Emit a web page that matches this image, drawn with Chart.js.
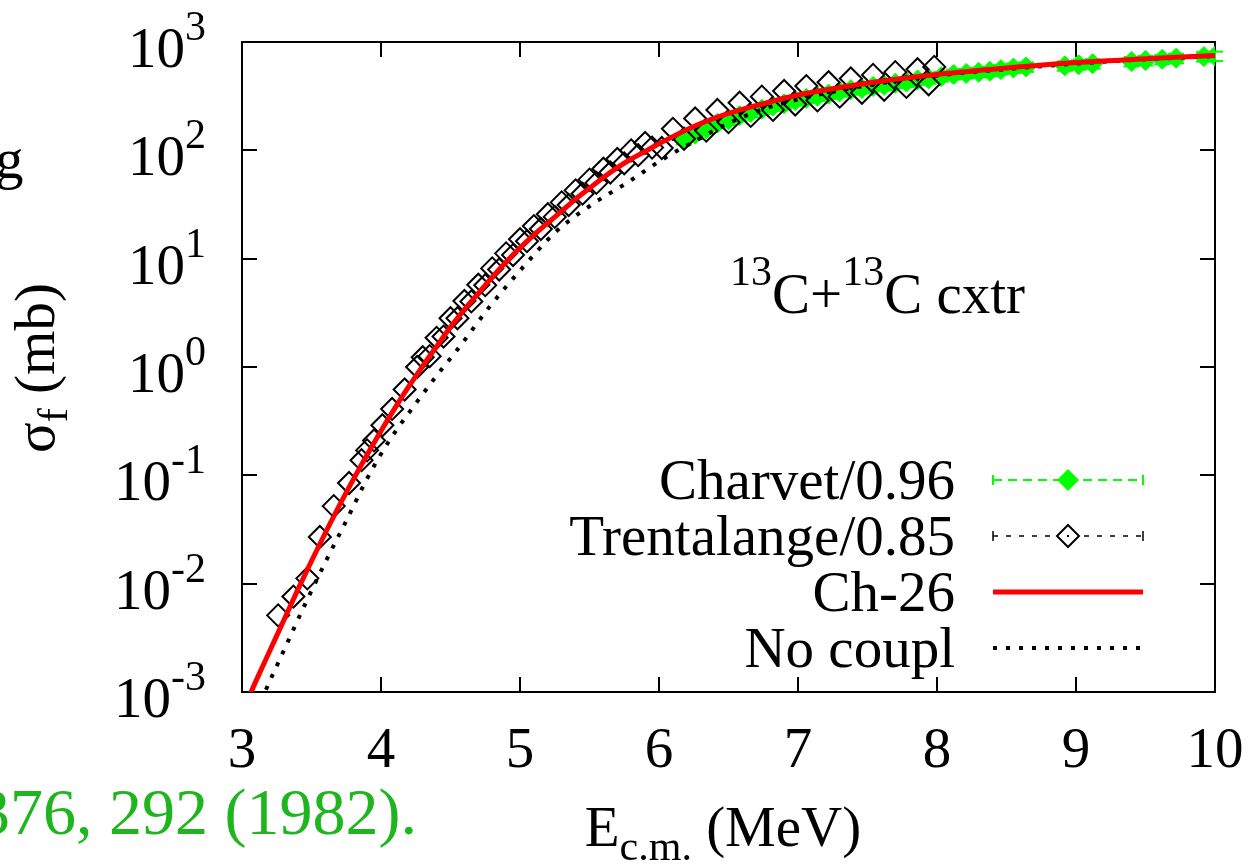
<!DOCTYPE html>
<html><head><meta charset="utf-8">
<script src="https://cdn.jsdelivr.net/npm/chart.js@4.4.1/dist/chart.umd.min.js"></script>
<style>html,body{margin:0;padding:0;background:#fff;overflow:hidden}canvas{display:block}
#probe{position:absolute;left:-9999px;top:0;font-family:"Liberation Serif";font-size:57px}</style>
</head><body>
<div id="probe">Charvet σ 0123</div>
<canvas id="c" width="1258" height="867" style="width:1258px;height:867px"></canvas>
<script>
// ---------------- data ----------------
const xTicks = [3, 4, 5, 6, 7, 8, 9, 10];
const yTickExps = [-3, -2, -1, 0, 1, 2, 3];

const charvetE = [6.18,6.26,6.34,6.42,6.50,6.58,6.66,6.74,6.82,6.90,6.98,7.06,7.14,7.22,7.30,7.38,7.46,7.54,7.62,7.70,7.78,7.86,7.94,8.03,8.12,8.21,8.30,8.38,8.46,8.55,8.64,8.92,9.02,9.12,9.40,9.50,9.62,9.72,9.92,10.0];
const charvetSigma = [126,141,158,178,191,209,224,240,257,269,288,302,316,331,347,363,372,389,398,417,427,447,457,479,501,513,525,537,556,575,589,603,617,631,661,676,692,708,733,741];
const charvetRelErr = 0.10;

const trentE = [3.26,3.37,3.47,3.56,3.66,3.77,3.86,3.90,3.95,4.01,4.08,4.17,4.26,
  4.30,4.35,4.40,4.45,4.50,4.55,4.60,4.65,4.70,4.75,4.80,4.85,4.90,4.95,5.00,5.05,5.10,5.15,5.20,5.25,5.30,5.35,5.40,5.45,5.50,5.55,5.60,5.65,5.70,5.75,5.80,5.85,5.90,5.95,
  6.02,6.10,6.18,6.26,6.34,6.42,6.50,6.58,6.66,6.74,6.82,6.90,6.98,7.06,7.14,7.22,7.30,7.38,7.46,7.54,7.62,7.70,7.78,7.86,7.94,7.98];
const trentSigma = [0.0051,0.0076,0.0112,0.027,0.052,0.085,0.138,0.17,0.21,0.29,0.41,0.62,1.0,
  1.23,1.26,1.86,1.91,2.82,2.82,4.07,4.03,5.75,5.69,8.13,7.94,11.2,10.8,15.1,14.5,20.0,18.8,25.7,24.3,33.1,31.3,42.7,39.8,53.7,50.1,67.6,62.4,83.2,75.9,100,90.2,117,106,
  105,158,128,197,152,236,182,275,208,313,236,353,265,392,289,425,313,461,340,497,362,527,385,560,407,589];

const ch26E = [3.0,3.1,3.2,3.3,3.4,3.5,3.6,3.7,3.8,3.9,4.0,4.1,4.2,4.3,4.4,4.5,4.6,4.7,4.8,4.9,5.0,5.1,5.2,5.3,5.4,5.5,5.6,5.7,5.8,5.9,6.0,6.25,6.5,6.75,7.0,7.5,8.0,8.5,9.0,9.5,10.0];
const ch26Sigma = [6.46e-4,1.26e-3,2.40e-3,4.57e-3,8.71e-3,0.0162,0.0295,0.0525,0.0912,0.155,0.257,0.417,0.661,1.02,1.55,2.34,3.39,4.79,6.76,9.33,12.6,16.6,21.4,27.5,35.5,44.7,56.2,69.2,83.2,97.7,115,166,219,269,324,417,501,575,646,700,750];

const noCoupE = [3.10,3.165,3.3,3.45,3.6,3.75,3.9,4.05,4.26,4.4,4.55,4.79,5.02,5.26,5.53,5.77,6.03,6.25,6.5,6.75,7.0,7.5,8.0,8.5,9.0,9.5,10.0];
const noCoupSigma = [6.3e-4,1.0e-3,2.40e-3,6.31e-3,0.0158,0.038,0.0933,0.20,0.479,0.83,1.45,3.72,8.3,17.8,32.4,50.1,83.2,120,178,240,295,398,490,562,631,692,741];

const legendLabels = ['Charvet/0.96', 'Trentalange/0.85', 'Ch-26', 'No coupl'];

// ---------------- helpers ----------------
const SERIF = '"Liberation Serif"';
const F = 57, FS = 42;
const fnt = px => px + 'px ' + SERIF;
const pts = (xs, ys) => xs.map((v, i) => ({x: v, y: ys[i]}));

function seg(ctx, x1, y1, x2, y2) { ctx.beginPath(); ctx.moveTo(x1, y1); ctx.lineTo(x2, y2); ctx.stroke(); }
function diamond(ctx, x, y, r) { ctx.beginPath(); ctx.moveTo(x, y - r); ctx.lineTo(x + r, y); ctx.lineTo(x, y + r); ctx.lineTo(x - r, y); ctx.closePath(); }

function runs(ctx, list, x, y, measureOnly) {
  let w = 0;
  for (const [t, s, dy] of list) {
    ctx.font = fnt(s);
    if (!measureOnly) ctx.fillText(t, x + w, y + dy);
    w += ctx.measureText(t).width;
  }
  return w;
}

const deco = {
  id: 'deco',
  beforeDatasetsDraw(chart) {
    const {ctx, chartArea: a, scales: {x, y}} = chart;
    ctx.save();
    ctx.strokeStyle = '#000'; ctx.lineWidth = 2; ctx.setLineDash([]);
    const L = 15;
    xTicks.forEach(v => {
      const px = Math.round(x.getPixelForValue(v));
      seg(ctx, px, a.bottom, px, a.bottom - L);
      seg(ctx, px, a.top, px, a.top + L);
    });
    yTickExps.forEach(e => {
      const py = Math.round(y.getPixelForValue(Math.pow(10, e)));
      seg(ctx, a.left, py, a.left + L, py);
      seg(ctx, a.right, py, a.right - L, py);
    });
    ctx.strokeRect(a.left, a.top, a.right - a.left, a.bottom - a.top);
    ctx.restore();
  },
  afterDatasetDraw(chart, args) {
    if (args.index !== 0) return;
    const {ctx, scales: {x, y}} = chart;
    ctx.save();
    ctx.strokeStyle = '#00ff00'; ctx.lineWidth = 2;
    charvetE.forEach((e, i) => {
      const px = x.getPixelForValue(e);
      const s = charvetSigma[i];
      const y1 = y.getPixelForValue(s * (1 - charvetRelErr));
      const y2 = y.getPixelForValue(s * (1 + charvetRelErr));
      seg(ctx, px, y1, px, y2);
      seg(ctx, px - 8, y1, px + 8, y1);
      seg(ctx, px - 8, y2, px + 8, y2);
    });
    ctx.restore();
  },
  afterDraw(chart) {
    const {ctx, scales: {x, y}} = chart;
    ctx.save();
    ctx.fillStyle = '#000';
    ctx.textBaseline = 'alphabetic';
    ctx.textAlign = 'left';
    yTickExps.forEach(e => {
      const py = y.getPixelForValue(Math.pow(10, e));
      const list = [['10', F, 25], [String(e), FS, -2]];
      const w = runs(ctx, list, 0, 0, true);
      runs(ctx, list, 206 - w, py, false);
    });
    ctx.font = fnt(F);
    ctx.textAlign = 'center';
    xTicks.forEach(v => ctx.fillText(String(v), x.getPixelForValue(v), 767));
    ctx.textAlign = 'left';
    {
      const list = [['E', F, 0], ['c.m.', FS, 14], [' (MeV)', F, 0]];
      const w = runs(ctx, list, 0, 0, true);
      runs(ctx, list, 723 - w / 2, 846, false);
    }
    {
      ctx.save();
      ctx.translate(54, 368);
      ctx.rotate(-Math.PI / 2);
      const list = [['\u03c3', F, 0], ['f', FS, 13], [' (mb)', F, 0]];
      const w = runs(ctx, list, 0, 0, true);
      runs(ctx, list, -w / 2, 0, false);
      ctx.restore();
    }
    runs(ctx, [['13', FS, -28], ['C+', F, 0], ['13', FS, -28], ['C cxtr', F, 0]], 730, 313, false);
    ctx.font = fnt(F);
    ctx.fillText('g', -5, 178);
    ctx.fillStyle = '#1fb51f';
    ctx.font = fnt(66);
    ctx.textAlign = 'right';
    ctx.fillText('376, 292 (1982).', 417, 834);
    const rows = [480, 536, 592, 648];
    const tx = 955, s1 = 993, s2 = 1143, mx = 1068;
    ctx.fillStyle = '#000';
    ctx.font = fnt(F);
    legendLabels.forEach((t, i) => ctx.fillText(t, tx, rows[i] + 19));
    ctx.textAlign = 'left';
    let ry = rows[0];
    ctx.strokeStyle = '#00ff00'; ctx.lineWidth = 2; ctx.setLineDash([9, 6]);
    seg(ctx, s1, ry, s2, ry);
    ctx.setLineDash([]);
    seg(ctx, s1, ry - 5, s1, ry + 5); seg(ctx, s2, ry - 5, s2, ry + 5);
    ctx.fillStyle = '#00ff00'; diamond(ctx, mx, ry, 11); ctx.fill();
    ry = rows[1];
    ctx.strokeStyle = '#000'; ctx.lineWidth = 1.5; ctx.setLineDash([5, 8]);
    seg(ctx, s1, ry, s2, ry);
    ctx.setLineDash([]);
    seg(ctx, s1, ry - 5, s1, ry + 5); seg(ctx, s2, ry - 5, s2, ry + 5);
    ctx.lineWidth = 2; ctx.fillStyle = '#fff'; diamond(ctx, mx, ry, 11); ctx.fill(); ctx.stroke();
    ctx.fillStyle = '#000'; ctx.fillRect(mx - 1, ry - 1, 2, 2);
    ry = rows[2];
    ctx.strokeStyle = '#ff0000'; ctx.lineWidth = 5;
    seg(ctx, s1, ry, s2, ry);
    ry = rows[3];
    ctx.strokeStyle = '#000'; ctx.lineWidth = 4; ctx.setLineDash([4, 9]);
    seg(ctx, s1, ry, s2, ry);
    ctx.restore();
  }
};

function build() {
  new Chart(document.getElementById('c'), {
    type: 'line',
    data: {
      datasets: [
        { label: legendLabels[0], data: pts(charvetE, charvetSigma), showLine: false, order: 4,
          pointStyle: 'rectRot', pointRadius: 10, pointBorderWidth: 1,
          pointBackgroundColor: '#00ff00', pointBorderColor: '#00ff00', borderColor: '#00ff00' },
        { label: legendLabels[1], data: pts(trentE, trentSigma), showLine: false, order: 3,
          pointStyle: 'rectRot', pointRadius: 11, pointBorderWidth: 2,
          pointBackgroundColor: 'rgba(0,0,0,0)', pointBorderColor: '#000', borderColor: '#000' },
        { label: legendLabels[2], data: pts(ch26E, ch26Sigma), order: 1,
          borderColor: '#ff0000', borderWidth: 5, pointRadius: 0, cubicInterpolationMode: 'monotone', fill: false },
        { label: legendLabels[3], data: pts(noCoupE, noCoupSigma), order: 2,
          borderColor: '#000', borderWidth: 4, borderDash: [4, 9], pointRadius: 0, cubicInterpolationMode: 'monotone', fill: false }
      ]
    },
    options: {
      responsive: false, animation: false, devicePixelRatio: 1,
      layout: { padding: { left: 242, top: 42, right: 43, bottom: 175 } },
      scales: {
        x: { type: 'linear', min: 3, max: 10, display: false },
        y: { type: 'logarithmic', min: 1e-3, max: 1e3, display: false }
      },
      plugins: { legend: { display: false }, tooltip: { enabled: false } }
    },
    plugins: [deco]
  });
}
if (document.fonts && document.fonts.load) {
  Promise.all([document.fonts.load('57px "Liberation Serif"'), document.fonts.load('42px "Liberation Serif"')])
    .then(build, build);
} else { build(); }
</script>
</body></html>
